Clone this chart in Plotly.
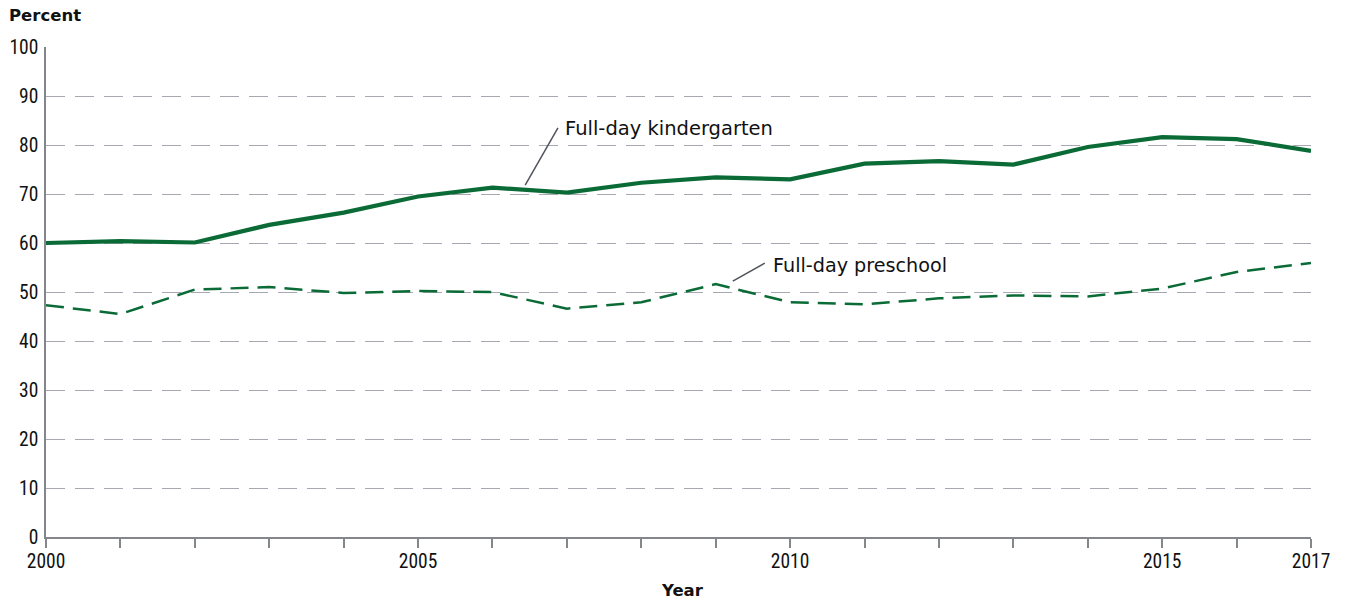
import plotly.graph_objects as go

years = list(range(2000, 2018))
kindergarten = [60.0, 60.4, 60.1, 63.7, 66.2, 69.5, 71.3, 70.3, 72.3, 73.4,
                73.0, 76.2, 76.7, 76.0, 79.6, 81.6, 81.2, 78.8]
preschool = [47.3, 45.5, 50.5, 51.0, 49.8, 50.2, 50.0, 46.6, 47.9, 51.6,
             47.9, 47.5, 48.7, 49.3, 49.1, 50.7, 54.1, 55.9]
x_label_years = [2000, 2005, 2010, 2015, 2017]
y_ticks = list(range(0, 101, 10))

GREEN = "#0b6b37"
GRID = "#a8a8b2"
AXIS = "#85868c"
TICKFONT = "Liberation Sans Narrow, Roboto Condensed, Roboto"
TEXTFONT = "DejaVu Sans"

fig = go.Figure()
fig.add_trace(go.Scatter(x=years, y=kindergarten, mode="lines",
                         line=dict(color=GREEN, width=4.2), name="Full-day kindergarten",
                         showlegend=False))
fig.add_trace(go.Scatter(x=years, y=preschool, mode="lines",
                         line=dict(color=GREEN, width=2.5, dash="18px,9px"),
                         name="Full-day preschool", showlegend=False))

# leader lines
fig.add_shape(type="line", x0=2006.44, y0=71.8, x1=2006.88, y1=83.5,
              line=dict(color="#50545c", width=1.5))
fig.add_shape(type="line", x0=2009.23, y0=52.2, x1=2009.66, y1=55.9,
              line=dict(color="#50545c", width=1.5))

fig.add_annotation(x=2006.95, y=83.3, text="Full-day kindergarten", showarrow=False,
                   xanchor="left", yanchor="middle",
                   font=dict(family=TEXTFONT, size=19.5, color="#111"))
fig.add_annotation(x=2009.74, y=55.4, text="Full-day preschool", showarrow=False,
                   xanchor="left", yanchor="middle",
                   font=dict(family=TEXTFONT, size=19.2, color="#111"))

fig.add_annotation(x=7, xref="paper", y=16, yref="paper", text="<b>Percent</b>",
                   showarrow=False, xanchor="left", yanchor="middle",
                   font=dict(family=TEXTFONT, size=16.5, color="#111"))
fig.add_annotation(x=682, y=590, text="<b>Year</b>", showarrow=False,
                   xanchor="center", yanchor="middle",
                   font=dict(family=TEXTFONT, size=16.5, color="#111"))

# convert pixel-positioned labels to paper coordinates
W, H = 1346, 604
ML, MR, MT, MB = 46, 35, 47, 67
pw, ph = W - ML - MR, H - MT - MB
for a in fig.layout.annotations[-2:]:
    px, py = a.x, a.y
    a.xref = "paper"; a.yref = "paper"
    a.x = (px - ML) / pw
    a.y = (H - MB - py) / ph

fig.update_layout(
    width=W, height=H,
    margin=dict(l=ML, r=MR, t=MT, b=MB),
    plot_bgcolor="white", paper_bgcolor="white",
    font=dict(family=TICKFONT, size=19.5, color="#111"),
    xaxis=dict(range=[2000, 2017], tickvals=years,
               ticktext=[str(y) if y in x_label_years else "" for y in years],
               ticks="outside", ticklen=9, tickcolor=AXIS, tickwidth=1.5,
               showgrid=False, showline=True, linecolor=AXIS, linewidth=2,
               zeroline=False, automargin=False, ticklabelstandoff=-3),
    yaxis=dict(range=[0, 100], tickvals=y_ticks, showgrid=True, gridcolor=GRID,
               griddash="19px,10px", gridwidth=1, showline=True, linecolor=AXIS,
               linewidth=1.5, zeroline=False, ticks="", ticklabelstandoff=2,
               automargin=False),
)

fig.write_html("out.html", config={"displayModeBar": False},
               post_script="document.body.style.margin='0';")
